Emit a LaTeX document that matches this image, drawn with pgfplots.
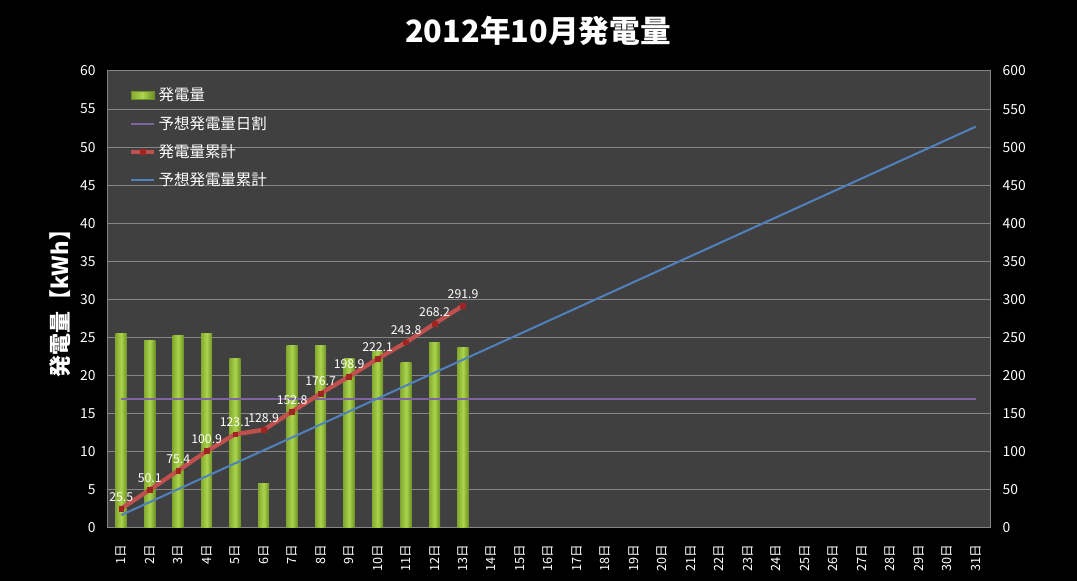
\documentclass[border=0pt]{standalone}
\usepackage{fontspec}
\setmainfont{Noto Sans CJK JP}
\usepackage{pgfplots}
\usepackage{pgfplotstable}
\pgfplotsset{compat=1.18}

\definecolor{plotbg}{RGB}{64,64,64}
\definecolor{gridgray}{RGB}{134,134,134}
\definecolor{barleft}{RGB}{132,170,50}
\definecolor{barmid}{RGB}{172,212,76}
\definecolor{barright}{RGB}{108,144,36}
\definecolor{predday}{RGB}{128,100,162}
\definecolor{cumred}{RGB}{192,80,77}
\definecolor{cummark}{RGB}{160,36,34}
\definecolor{predcum}{RGB}{79,129,189}

% actual generation (kWh) and running total
\pgfplotstableread{
day gen cum
1  25.5 25.5
2  24.6 50.1
3  25.3 75.4
4  25.5 100.9
5  22.2 123.1
6  5.8  128.9
7  23.9 152.8
8  23.9 176.7
9  22.2 198.9
10 23.2 222.1
11 21.7 243.8
12 24.4 268.2
13 23.7 291.9
}\actual

% forecast: per-day share and running total
\pgfplotstableread{
day daily cum
1  17 17
2  17 34
3  17 51
4  17 68
5  17 85
6  17 102
7  17 119
8  17 136
9  17 153
10 17 170
11 17 187
12 17 204
13 17 221
14 17 238
15 17 255
16 17 272
17 17 289
18 17 306
19 17 323
20 17 340
21 17 357
22 17 374
23 17 391
24 17 408
25 17 425
26 17 442
27 17 459
28 17 476
29 17 493
30 17 510
31 17 527
}\forecast

\pgfplotsset{
  chartbase/.style={
    at={(80.25pt,39.75pt)}, anchor=south west,
    scale only axis, width=662.25pt, height=342.75pt,
    xmin=0.5, xmax=31.5,
    axis line style={gridgray, line width=0.75pt},
    major tick length=0pt,
    tick label style={text=white},
    /pgf/number format/assume math mode=true,
    yticklabel style={font=\fontsize{10.4}{12}\selectfont},
  },
  barstyle/.style={left color=barleft, right color=barright, middle color=barmid},
}

\begin{document}
\begin{tikzpicture}
\useasboundingbox (0,0) rectangle (807.75pt,435.75pt);
\fill[black] (0,0) rectangle (807.75pt,435.75pt);

\begin{axis}[
  chartbase,
  ymin=0, ymax=60, ytick={0,5,...,60},
  xtick={1,...,31},
  xticklabels={1日,2日,3日,4日,5日,6日,7日,8日,9日,10日,11日,12日,13日,14日,15日,16日,17日,18日,19日,20日,21日,22日,23日,24日,25日,26日,27日,28日,29日,30日,31日},
  xticklabel style={rotate=90, anchor=east, font=\fontsize{9.5}{11}\selectfont},
  xticklabel shift=9pt,
  yticklabel style={xshift=-5pt},
  ymajorgrids, grid style={gridgray, line width=0.75pt},
  axis background/.style={fill=plotbg},
]
% one plot per day so that every bar gets its own shading
\pgfplotsinvokeforeach{1,...,13}{
  \addplot[ybar, bar width=0.39, draw=none, barstyle, restrict x to domain=#1:#1]
    table[x=day, y=gen] {\actual};
}
\addplot[predday, line width=1.5pt] table[x=day, y=daily] {\forecast};
\end{axis}

\begin{axis}[
  chartbase,
  ymin=0, ymax=600, ytick={0,50,...,600},
  axis y line*=right, axis x line=none,
  yticklabel style={xshift=6pt},
  legend style={at={(0.02,0.975)}, anchor=north west, fill=none, draw=none,
    text=white, font=\fontsize{11.6}{13}\selectfont, row sep=6pt},
  legend cell align=left,
]
\addlegendimage{area legend, draw=barright, barstyle}
\addlegendentry{発電量}
\addlegendimage{predday, line width=1.5pt}
\addlegendentry{予想発電量日割}
\addplot[cumred, line width=3.2pt, mark=square*, mark size=1.8pt,
  mark options={fill=cummark, draw=cummark, line width=0.4pt},
  nodes near coords={\pgfmathprintnumber[fixed, fixed zerofill, precision=1]{\pgfplotspointmeta}},
  nodes near coords style={text=white, font=\fontsize{9.2}{10}\selectfont, anchor=south, yshift=2pt}]
  table[x=day, y=cum] {\actual};
\addlegendentry{発電量累計}
\addplot[predcum, line width=1.5pt] table[x=day, y=cum] {\forecast};
\addlegendentry{予想発電量累計}
\end{axis}

\node[text=white, font=\fontsize{23}{26}\selectfont\bfseries] at (403.5pt,412.5pt) {2012年10月発電量};
\node[text=white, rotate=90, font=\fontsize{16.5}{18}\selectfont\bfseries] at (45pt,211.9pt) {発電量【kWh】};
\end{tikzpicture}
\end{document}
